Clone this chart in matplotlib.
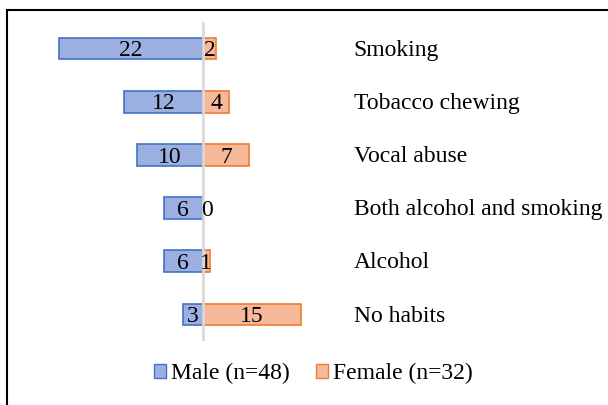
import matplotlib
matplotlib.use("Agg")
import matplotlib.pyplot as plt
from matplotlib.patches import Patch, Rectangle

plt.rcParams['font.family'] = ['Liberation Serif', 'DejaVu Serif']

habits = ["Smoking", "Tobacco chewing", "Vocal abuse",
          "Both alcohol and smoking", "Alcohol", "No habits"]
male = [22, 12, 10, 6, 6, 3]
female = [2, 4, 7, 0, 1, 15]

blue_fill = "#9BAFE1"
blue_edge = "#4472C4"
orange_fill = "#F7B99C"
orange_edge = "#ED7D31"

fig = plt.figure(figsize=(6.08, 4.05), dpi=100)
ax = fig.add_axes([30 / 608, 1 - 341 / 405, 320 / 608, 319 / 405])

ys = list(range(len(habits)))
ax.barh(ys, [-m for m in male], height=0.41, color=blue_fill,
        edgecolor=blue_edge, linewidth=1.2, zorder=2)
ax.barh(ys, female, height=0.41, color=orange_fill,
        edgecolor=orange_edge, linewidth=1.2, zorder=2)
ax.axvline(0, color="#D9D9D9", linewidth=2, zorder=3)

for y, m, f, name in zip(ys, male, female, habits):
    ax.text(-m / 2, y + 0.04, str(m), ha="center", va="center", fontsize=17, zorder=4)
    fx = f / 2 if f > 0 else 0.65
    ax.text(fx, y + 0.04, str(f), ha="center", va="center", fontsize=17, zorder=4)
    ax.text(23.0, y + 0.03, name, ha="left", va="center", fontsize=17, clip_on=False)

ax.set_xlim(-26.4, 22.44)
ax.set_ylim(5.5, -0.5)
ax.axis("off")

handles = [Patch(facecolor=blue_fill, edgecolor=blue_edge, label="Male (n=48)"),
           Patch(facecolor=orange_fill, edgecolor=orange_edge, label="Female (n=32)")]
fig.legend(handles=handles, loc="center", bbox_to_anchor=(0.515, 0.078), ncol=2,
           frameon=False, fontsize=17, handlelength=0.52, handleheight=0.52,
           handletextpad=0.2, columnspacing=1.1)

fig.patches.append(Rectangle((7 / 608, -0.2), 1.2, 1 - 10 / 405 + 0.2,
                             transform=fig.transFigure, fill=False,
                             edgecolor="black", linewidth=1.5))

fig.savefig("out.png", dpi=100)
